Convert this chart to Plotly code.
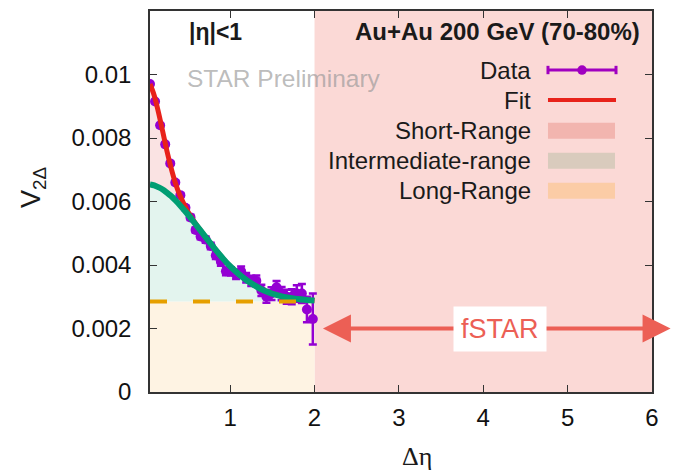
import plotly.graph_objects as go

# ---------------- data ----------------
DELTA_ETA = [0.05, 0.11, 0.17, 0.23, 0.29, 0.35, 0.41, 0.47, 0.53, 0.59, 0.65,
             0.71, 0.77, 0.83, 0.89, 0.95, 1.01, 1.07, 1.13, 1.19, 1.25, 1.31,
             1.37, 1.43, 1.49, 1.55, 1.61, 1.67, 1.73, 1.79, 1.85, 1.91, 1.98]
V2_DATA = [0.0097, 0.00915, 0.0084, 0.0078, 0.0072, 0.0066, 0.0062, 0.0058, 0.0055,
           0.0051, 0.0049, 0.0048, 0.0046, 0.0043, 0.0041, 0.0038, 0.0038, 0.0037,
           0.0038, 0.0036, 0.0035, 0.0035, 0.0032, 0.0030, 0.0031, 0.0033, 0.0031,
           0.0030, 0.0030, 0.0031, 0.0031, 0.0026, 0.0023]
V2_ERR = [0.00005, 0.00005, 0.00005, 0.00005, 0.00005, 0.00006, 0.00006, 0.00007,
          0.00008, 0.00008, 0.00009, 0.0001, 0.0001, 0.00011, 0.00012, 0.00012,
          0.00013, 0.00014, 0.00015, 0.00015, 0.00016, 0.00017, 0.00018, 0.00019,
          0.0002, 0.0002, 0.00021, 0.00022, 0.00024, 0.00026, 0.0003, 0.0004, 0.0008]

CURVE_X = [0.05, 0.1, 0.15, 0.2, 0.25, 0.3, 0.35, 0.4, 0.5, 0.6, 0.7, 0.8, 0.9,
           1.0, 1.2, 1.4, 1.6, 1.8, 2.0]
FIT_Y = [0.00970, 0.00934, 0.00881, 0.00821, 0.00760, 0.00706, 0.00659, 0.00622,
         0.00568, 0.00527, 0.00491, 0.00457, 0.00425, 0.00396, 0.00351, 0.00320,
         0.00302, 0.00293, 0.00288]
INTER_Y = [0.00654, 0.00651, 0.00645, 0.00638, 0.00628, 0.00617, 0.00604, 0.00590,
           0.00559, 0.00525, 0.00491, 0.00457, 0.00425, 0.00396, 0.00351, 0.00320,
           0.00302, 0.00293, 0.00288]
LONG_RANGE = 0.00285
LONG_Y = [LONG_RANGE for _ in CURVE_X]

FSTAR_RANGE = [2.0, 6.0]
ARROW_ENDS = [2.1, 6.22]
ARROW_Y = 0.002

X_TICKS = [1, 2, 3, 4, 5, 6]
Y_TICKS = [0, 0.002, 0.004, 0.006, 0.008, 0.01]
Y_TICK_LABELS = ["0", "0.002", "0.004", "0.006", "0.008", "0.01"]

LEGEND_LABELS = ["Data", "Fit", "Short-Range", "Intermediate-range", "Long-Range"]

# ---------------- styles ----------------
PURPLE = "#9400d3"
RED = "#e8221a"
GREEN = "#009e73"
ORANGE = "#e69f00"
CREAM = "#fef3e3"
MINT = "#e3f4ee"
LPINK = "#fae3e3"
RPINK = "#fbd9d6"
ARROWC = "#ec5f55"
FONT = "Liberation Sans, Arial, sans-serif"

fig = go.Figure()

# filled components
fig.add_trace(go.Scatter(x=CURVE_X, y=LONG_Y, mode="lines", line=dict(width=0),
                         fill="tozeroy", fillcolor=CREAM, hoverinfo="skip", showlegend=False))
fig.add_trace(go.Scatter(x=CURVE_X, y=INTER_Y, mode="lines", line=dict(width=0, shape="spline"),
                         fill="tonexty", fillcolor=MINT, hoverinfo="skip", showlegend=False))
fig.add_trace(go.Scatter(x=CURVE_X, y=FIT_Y, mode="lines", line=dict(width=0, shape="spline"),
                         fill="tonexty", fillcolor=LPINK, hoverinfo="skip", showlegend=False))

# data
fig.add_trace(go.Scatter(x=DELTA_ETA, y=V2_DATA, mode="markers",
                         marker=dict(color=PURPLE, size=10),
                         error_y=dict(type="data", array=V2_ERR, color=PURPLE,
                                      thickness=2.5, width=4),
                         showlegend=False))
# fit lines
fig.add_trace(go.Scatter(x=CURVE_X, y=FIT_Y, mode="lines",
                         line=dict(color=RED, width=5, shape="spline"), showlegend=False))
fig.add_trace(go.Scatter(x=CURVE_X, y=INTER_Y, mode="lines",
                         line=dict(color=GREEN, width=6, shape="spline"), showlegend=False))
fig.add_trace(go.Scatter(x=CURVE_X, y=LONG_Y, mode="lines",
                         line=dict(color=ORANGE, width=4, dash="17px,26px"), showlegend=False))

shapes = [
    dict(type="rect", xref="x", yref="paper", x0=FSTAR_RANGE[0], x1=FSTAR_RANGE[1],
         y0=0, y1=1, fillcolor=RPINK, line=dict(width=0), layer="below"),
]

# legend (paper coordinates)
LX0, LX1 = 0.7928, 0.9283
ly = [0.8451, 0.7664, 0.6858, 0.6071, 0.5283]
swatches = ["#f2b5af", "#d9cbbd", "#fbcca6"]
shapes.append(dict(type="line", xref="paper", yref="paper", x0=LX0, x1=LX1, y0=ly[0], y1=ly[0],
                   line=dict(color="#a000c0", width=3)))
for xc in (LX0, LX1):
    shapes.append(dict(type="line", xref="paper", yref="paper", x0=xc, x1=xc,
                       y0=ly[0] - 0.011, y1=ly[0] + 0.011, line=dict(color="#a000c0", width=3)))
shapes.append(dict(type="circle", xref="paper", yref="paper",
                   x0=0.8606 - 0.0095, x1=0.8606 + 0.0095, y0=ly[0] - 0.0125, y1=ly[0] + 0.0125,
                   fillcolor="#a000c0", line=dict(width=0)))
shapes.append(dict(type="line", xref="paper", yref="paper", x0=LX0, x1=LX1, y0=ly[1], y1=ly[1],
                   line=dict(color=RED, width=4)))
for i, col in enumerate(swatches):
    yc = ly[2 + i]
    shapes.append(dict(type="rect", xref="paper", yref="paper", x0=LX0, x1=0.9263,
                       y0=yc - 0.021, y1=yc + 0.021, fillcolor=col, line=dict(width=0)))

annotations = []
for lab, yc in zip(LEGEND_LABELS, ly):
    annotations.append(dict(text=lab, xref="paper", yref="paper", x=0.763, y=yc,
                            xanchor="right", yanchor="middle", showarrow=False,
                            font=dict(family=FONT, size=24, color="#1a1a1a")))

annotations += [
    dict(text="Au+Au 200 GeV (70-80%)", xref="paper", yref="paper", x=0.980, y=0.9457,
         xanchor="right", yanchor="middle", showarrow=False,
         font=dict(family=FONT, size=24, color="#1a1a1a", weight="bold")),
    dict(text="|η|<1", xref="paper", yref="paper", x=0.073, y=0.9457,
         xanchor="left", yanchor="middle", showarrow=False,
         font=dict(family=FONT, size=23, color="#1a1a1a", weight="bold")),
    dict(text="STAR Preliminary", xref="paper", yref="paper", x=0.0697, y=0.8234,
         xanchor="left", yanchor="middle", showarrow=False,
         font=dict(family=FONT, size=24.5, color="rgba(150,150,150,0.65)")),
    # fSTAR double arrow
    dict(text="", x=ARROW_ENDS[0], y=ARROW_Y, ax=4.2, ay=ARROW_Y, xref="x", yref="y",
         axref="x", ayref="y", showarrow=True, arrowhead=2, arrowsize=1.4,
         arrowwidth=4, arrowcolor=ARROWC, standoff=0, startstandoff=0),
    dict(text="", x=ARROW_ENDS[1], y=ARROW_Y, ax=4.2, ay=ARROW_Y, xref="x", yref="y",
         axref="x", ayref="y", showarrow=True, arrowhead=2, arrowsize=1.4,
         arrowwidth=4, arrowcolor=ARROWC, standoff=0, startstandoff=0),
    dict(text="fSTAR", x=4.2, y=ARROW_Y, xref="x", yref="y", showarrow=False,
         xanchor="center", yanchor="middle", bgcolor="white", borderpad=7,
         font=dict(family=FONT, size=27, color=ARROWC)),
    # axis titles
    dict(text="V<sub>2Δ</sub>", xref="paper", yref="paper", x=-0.233, y=0.538,
         textangle=-90, showarrow=False, xanchor="center", yanchor="middle",
         font=dict(family=FONT, size=27, color="#1a1a1a")),
    dict(text="Δη", xref="paper", yref="paper", x=0.531, y=-0.1706,
         showarrow=False, xanchor="center", yanchor="middle",
         font=dict(family="Liberation Serif, Times New Roman, serif", size=26, color="#1a1a1a")),
]

axis_common = dict(ticks="inside", ticklen=7, tickwidth=1.3, tickcolor="#333",
                   showline=True, linecolor="#333", linewidth=1.5, mirror="ticks",
                   showgrid=False, zeroline=False,
                   tickfont=dict(family=FONT, size=24, color="#111"))

fig.update_layout(
    width=677, height=470,
    margin=dict(l=150, r=25, t=11, b=78, autoexpand=False),
    paper_bgcolor="white", plot_bgcolor="white",
    xaxis=dict(range=[0.05, 6], tickvals=X_TICKS, ticklabelstandoff=3, **axis_common),
    yaxis=dict(range=[0, 0.012], tickvals=Y_TICKS, ticktext=Y_TICK_LABELS,
               ticklabelstandoff=12, **axis_common),
    shapes=shapes, annotations=annotations, showlegend=False,
)

fig.write_html("out.html", config={"displayModeBar": False},
               post_script="document.body.style.margin='0';document.body.style.padding='0';")
